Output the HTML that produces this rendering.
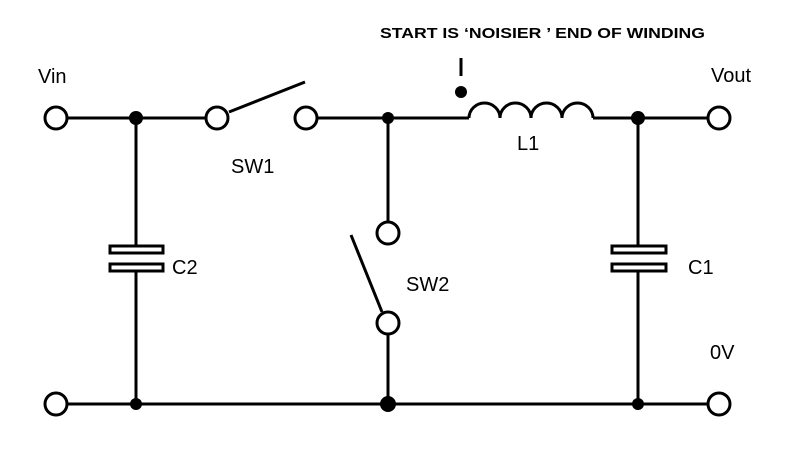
<!DOCTYPE html>
<html><head><style>body{margin:0;background:#fff}svg{display:block}</style></head>
<body>
<svg width="800" height="451" viewBox="0 0 800 451" xmlns="http://www.w3.org/2000/svg">
<g stroke="#000" stroke-width="3" fill="none">
<line x1="67" y1="118" x2="205" y2="118"/>
<line x1="229" y1="112" x2="305" y2="82"/>
<line x1="317" y1="118" x2="469" y2="118"/>
<path d="M469 118 a15.5 15 0 0 1 31 0 a15.5 15 0 0 1 31 0 a15.5 15 0 0 1 31 0 a15.5 15 0 0 1 31 0"/>
<line x1="593" y1="118" x2="708" y2="118"/>
<line x1="67" y1="404" x2="708" y2="404"/>
<line x1="136" y1="118" x2="136" y2="246"/>
<line x1="136" y1="271" x2="136" y2="404"/>
<line x1="638" y1="118" x2="638" y2="246"/>
<line x1="638" y1="271" x2="638" y2="404"/>
<line x1="388" y1="118" x2="388" y2="222"/>
<line x1="388" y1="335" x2="388" y2="404"/>
<line x1="351" y1="235" x2="382" y2="312"/>
<line x1="461" y1="58" x2="461" y2="76"/>
<circle cx="56" cy="118" r="11" fill="#fff"/>
<circle cx="217" cy="118" r="11" fill="#fff"/>
<circle cx="306" cy="118" r="11" fill="#fff"/>
<circle cx="719" cy="118" r="11" fill="#fff"/>
<circle cx="56" cy="404" r="11" fill="#fff"/>
<circle cx="719" cy="404" r="11" fill="#fff"/>
<circle cx="388" cy="233" r="11" fill="#fff"/>
<circle cx="388" cy="323" r="11" fill="#fff"/>
<rect x="110" y="246" width="53" height="7" fill="#fff"/>
<rect x="110" y="264" width="53" height="7" fill="#fff"/>
<rect x="612" y="246" width="54" height="7" fill="#fff"/>
<rect x="612" y="264" width="54" height="7" fill="#fff"/>
</g>
<g fill="#000">
<circle cx="136" cy="118" r="7"/>
<circle cx="388" cy="118" r="6"/>
<circle cx="638" cy="118" r="7"/>
<circle cx="136" cy="404" r="6"/>
<circle cx="388" cy="404" r="8"/>
<circle cx="638" cy="404" r="6"/>
<circle cx="461" cy="92" r="6"/>
</g>
<g font-family="Liberation Sans, sans-serif" font-size="20" fill="#000">
<text x="38" y="83">Vin</text>
<text x="231" y="173">SW1</text>
<text x="172" y="274">C2</text>
<text x="406" y="291">SW2</text>
<text x="517" y="150">L1</text>
<text x="688" y="274">C1</text>
<text x="711" y="82">Vout</text>
<text x="710" y="359">0V</text>
<text x="380" y="38" font-size="15" font-weight="bold" textLength="325" lengthAdjust="spacingAndGlyphs">START IS ‘NOISIER ’ END OF WINDING</text>
</g>
</svg>
</body></html>
